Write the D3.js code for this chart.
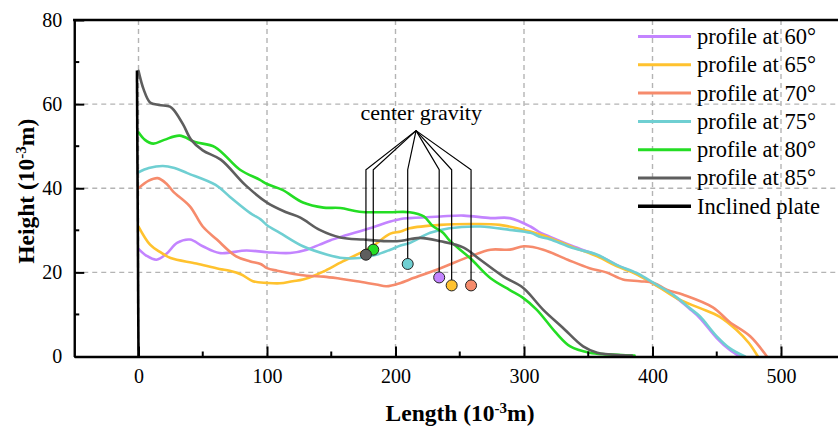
<!DOCTYPE html>
<html>
<head>
<meta charset="utf-8">
<script src="https://cdn.jsdelivr.net/npm/d3@7/dist/d3.min.js"></script>
<style>
  html, body { margin: 0; padding: 0; background: #fff; }
  svg { display: block; font-family: "Liberation Serif", "Times New Roman", serif; }
</style>
</head>
<body>
<svg id="chart" width="838" height="432"></svg>
<script>
// Free-surface profiles on an inclined plate, [length, height] in 10^-3 m
const profile60 = [[0,25.6],[6,24],[14,23],[22,24.5],[30,27],[40,27.8],[50,26.2],[63,24.6],[84,25.2],[100,24.8],[118,24.6],[131,25.4],[141,26.6],[149,27.6],[159,28.6],[180,30.5],[196,32.1],[204,32.7],[211,32.9],[235,33.3],[253,33.5],[274,32.9],[289,32.9],[305,30.9],[313,29.4],[320,28.5],[338,26.2],[357,24.1],[372,21.8],[388,19.6],[403,16.9],[416,14.5],[429,11.3],[437,9.1],[450,4.4],[460,1.6],[468,0]];
const profile65 = [[0,30.9],[9,26.6],[17,24.8],[25,23.4],[45,22.1],[63,20.8],[71,20.4],[80,19.5],[89,17.9],[100,17.5],[110,17.4],[120,17.9],[128,18.3],[139,19.5],[144,20.2],[159,22.6],[180,25.8],[196,29.2],[204,29.7],[211,30.5],[235,31.3],[258,31.5],[281,31.3],[305,29.7],[320,28.2],[338,26],[357,23.8],[372,21.5],[388,19.5],[406,16.3],[421,13.5],[437,11.5],[452,9.5],[465,6.4],[475,3.2],[482,0]];
const profile70 = [[0,40],[8,41.8],[15,42.4],[22,41],[27,39.2],[40,35.7],[50,30.9],[61,27.8],[76,23.8],[87,22.6],[95,22],[100,21],[108,20.4],[131,19.2],[144,19],[157,18.5],[170,17.9],[185,17.1],[193,16.7],[204,17.5],[211,18.3],[235,21],[258,23.8],[274,25.4],[289,25.4],[300,26.2],[315,25.4],[334,23],[351,21],[364,20],[377,18.3],[390,17.9],[401,17.5],[411,15.9],[424,14.7],[447,11.7],[460,8.2],[476,4.8],[489,0]];
const profile75 = [[0,43.8],[8,44.8],[19,45.3],[28,44.8],[38,43.6],[60,40.8],[71,38],[87,34.1],[95,32.6],[100,31.2],[110,29.4],[128,26.2],[147,24.2],[159,23.4],[172,23.4],[185,24.2],[196,25.4],[204,26.4],[211,27],[227,29.4],[242,30.5],[266,30.9],[289,30.1],[305,29.4],[313,28.4],[320,27.9],[338,25.8],[357,24.2],[372,21.8],[388,19.8],[403,17.1],[416,14.7],[429,11.5],[437,9.5],[450,4.8],[460,2],[472,0]];
const profile80 = [[0,53.3],[5,51.5],[11.5,50.6],[20,51.5],[32,52.5],[44,51],[59.5,49.8],[79,44.4],[94.5,42],[100,41],[112,39.6],[128,36.6],[144,35.4],[157,35.3],[172,34.4],[195,34.3],[211,34.3],[222,33.3],[229,31],[237,29.4],[242,27.6],[258,23.4],[274,18.6],[289,15.8],[299,14],[310,11.1],[325,5.6],[336,2.4],[351,0.9],[365,0.5],[386,0.2]];
const profile85 = [[0,67.9],[4,63.5],[9,60.4],[16,59.8],[24.5,59.4],[28,58.4],[35,55],[41,51.5],[50,49],[64,46.8],[83,40.8],[100,36.6],[115,34.3],[126,33],[141,30.1],[157,28.3],[175,27.8],[201,27.4],[219,28.2],[235,27.4],[253,25.9],[266,23],[284,19],[299,16.4],[315,11.1],[330,6.9],[346,2.4],[357,0.9],[377,0.3],[384,0.2]];
const plate = [[0,0],[-1.2,68]];

const seriesNames = ["profile at 60°","profile at 65°","profile at 70°","profile at 75°","profile at 80°","profile at 85°"];
const seriesData = [profile60, profile65, profile70, profile75, profile80, profile85];
const seriesColors = ["#c384ff","#ffc22e","#f68b6c","#6fcfd2","#24dd24","#5e5e5e"];

// Centre of gravity of each profile, [length, height]
const gravity = [[234,18.8],[243.7,16.9],[258.8,16.9],[209.5,22],[182.7,25.4],[177,24.2]];
const gravityLabel = "center gravity";
const gravityApex = [216, 53.7];
const gravityElbowHeight = 44.4;
const gravityLabelPos = [220, 56.3];

const xTicks = [0,100,200,300,400,500];
const xMinor = [50,150,250,350,450,550];
const yTicks = [0,20,40,60,80];
const yMinor = [10,30,50,70];

const svg = d3.select("#chart");
const W = 838, H = 432;

const x = d3.scaleLinear().domain([-50, 550]).range([74.25, 845.25]);
const y = d3.scaleLinear().domain([0, 80]).range([356.5, 20]);
const x0 = x(-50), yTop = y(80), yBot = y(0);

// grid
const grid = svg.append("g").attr("stroke", "#b4b4b4").attr("stroke-width", 1.4).attr("stroke-dasharray", "5,4");
grid.selectAll(".gx").data(xTicks).join("line")
  .attr("x1", d => x(d)).attr("x2", d => x(d)).attr("y1", yTop).attr("y2", yBot);
grid.selectAll(".gy").data([20,40,60]).join("line")
  .attr("x1", x0).attr("x2", W).attr("y1", d => y(d)).attr("y2", d => y(d));

// profiles
const line = d3.line().x(d => x(d[0])).y(d => y(d[1])).curve(d3.curveCatmullRom.alpha(0.5));
const plot = svg.append("g");
seriesData.forEach((s, i) => {
  plot.append("path").datum(s).attr("d", line)
    .attr("fill", "none").attr("stroke", seriesColors[i]).attr("stroke-width", 2.6)
    .attr("stroke-linejoin", "round").attr("stroke-linecap", "round");
});
plot.append("path").datum(plate).attr("d", d3.line().x(d => x(d[0])).y(d => y(d[1])))
  .attr("fill", "none").attr("stroke", "#000").attr("stroke-width", 2.6);

// centre-of-gravity callouts
const ann = svg.append("g");
gravity.forEach(g => {
  ann.append("polyline")
    .attr("points", [[x(gravityApex[0]), y(gravityApex[1])], [x(g[0]), y(gravityElbowHeight)], [x(g[0]), y(g[1])]].map(p => p.join(",")).join(" "))
    .attr("fill", "none").attr("stroke", "#000").attr("stroke-width", 1.2);
});
ann.selectAll("circle").data(gravity).join("circle")
  .attr("cx", d => x(d[0])).attr("cy", d => y(d[1])).attr("r", 5.5)
  .attr("fill", (d, i) => seriesColors[i]).attr("stroke", "#222").attr("stroke-width", 1);
ann.append("text").attr("x", x(gravityLabelPos[0])).attr("y", y(gravityLabelPos[1]))
  .attr("text-anchor", "middle").attr("font-size", 22).text(gravityLabel);

// axes
const xAxis = d3.axisBottom(x).tickValues(xTicks).tickSizeInner(-10).tickSizeOuter(0).tickPadding(12);
const gx = svg.append("g").attr("transform", `translate(0,${yBot})`).call(xAxis);
gx.selectAll(".tick line").attr("stroke-width", 2);
gx.select(".domain").attr("stroke-width", 2.4);
gx.selectAll(".tick text").attr("font-size", 20).attr("font-family", "Liberation Serif").attr("fill", "#000");
gx.append("g").selectAll("line").data(xMinor).join("line")
  .attr("x1", d => x(d)).attr("x2", d => x(d)).attr("y1", 0).attr("y2", -5)
  .attr("stroke", "#000").attr("stroke-width", 2);

const yAxis = d3.axisLeft(y).tickValues(yTicks).tickSizeInner(-10).tickSizeOuter(0).tickPadding(12);
const gy = svg.append("g").attr("transform", `translate(${x0},0)`).call(yAxis);
gy.selectAll(".tick line").attr("stroke-width", 2);
gy.select(".domain").attr("stroke-width", 2.4);
gy.selectAll(".tick text").attr("font-size", 20).attr("font-family", "Liberation Serif").attr("fill", "#000");
gy.append("g").selectAll("line").data(yMinor).join("line")
  .attr("x1", 0).attr("x2", 5).attr("y1", d => y(d)).attr("y2", d => y(d))
  .attr("stroke", "#000").attr("stroke-width", 2);

// top frame
svg.append("line").attr("x1", x0 - 1.2).attr("x2", W).attr("y1", yTop).attr("y2", yTop)
  .attr("stroke", "#000").attr("stroke-width", 2.4);

// axis titles
const xt = svg.append("text").attr("x", 460).attr("y", 421).attr("text-anchor", "middle")
  .attr("font-size", 23.5).attr("font-weight", "bold");
xt.append("tspan").text("Length (10");
xt.append("tspan").attr("dy", -8).attr("font-size", 15).text("-3");
xt.append("tspan").attr("dy", 8).text("m)");

const yt = svg.append("text").attr("transform", `translate(34,${(yTop + yBot) / 2 + 3}) rotate(-90)`)
  .attr("text-anchor", "middle").attr("font-size", 23.5).attr("font-weight", "bold");
yt.append("tspan").text("Height (10");
yt.append("tspan").attr("dy", -8).attr("font-size", 15).text("-3");
yt.append("tspan").attr("dy", 8).text("m)");

// legend
const legNames = seriesNames.concat(["Inclined plate"]);
const legColors = seriesColors.concat(["#000"]);
const leg = svg.append("g").attr("transform", "translate(638,36.5)");
legNames.forEach((n, i) => {
  const r = leg.append("g").attr("transform", `translate(0,${i * 28.3})`);
  r.append("line").attr("x1", 0).attr("x2", 53).attr("y1", 0).attr("y2", 0)
    .attr("stroke", legColors[i]).attr("stroke-width", i === 6 ? 3.4 : 3);
  r.append("text").attr("x", 59).attr("y", 0).attr("dy", "0.33em").attr("font-size", 22.5).text(n);
});
</script>
</body>
</html>
